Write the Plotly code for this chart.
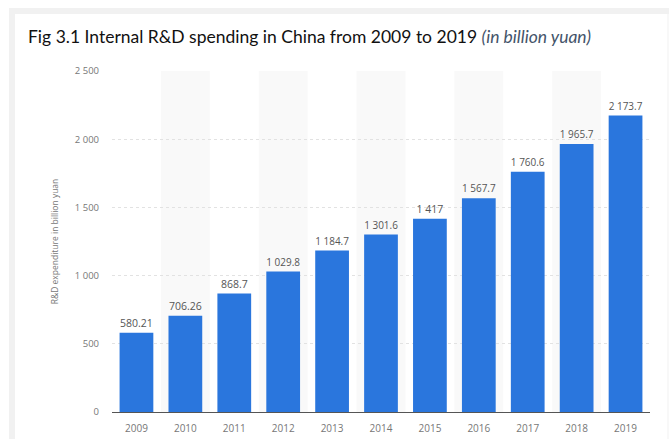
import plotly.graph_objects as go

years = ["2009", "2010", "2011", "2012", "2013", "2014", "2015", "2016", "2017", "2018", "2019"]
spending = [580.21, 706.26, 868.7, 1029.8, 1184.7, 1301.6, 1417, 1567.7, 1760.6, 1965.7, 2173.7]
y_ticks = [0, 500, 1000, 1500, 2000, 2500]

W, H = 669, 439
L, R, T, B = 112, 19, 71, 27
pw, ph = W - L - R, H - T - B

def px_x(px):
    return (px - L) / pw

def px_y(py):
    return (H - B - py) / ph

fig = go.Figure()
fig.add_trace(go.Bar(
    x=years, y=spending,
    marker=dict(color="#2a76dd", line=dict(width=0)),
    texttemplate="%{y:,}",
    textposition="outside",
    textfont=dict(family="Open Sans", size=10.5, color="#555555"),
    cliponaxis=False,
    hoverinfo="skip",
))

shapes = []
# alternating column bands
for i in range(len(years)):
    if i % 2 == 1:
        shapes.append(dict(type="rect", xref="x", yref="y", x0=i - 0.5, x1=i + 0.5,
                           y0=0, y1=y_ticks[-1], fillcolor="#f9f9f9", line=dict(width=0),
                           layer="below"))
# frame bands
shapes.append(dict(type="rect", xref="paper", yref="paper", x0=px_x(9), x1=px_x(669),
                   y0=px_y(14), y1=px_y(8), fillcolor="#f1f1f1", line=dict(width=0), layer="below"))
shapes.append(dict(type="rect", xref="paper", yref="paper", x0=px_x(9), x1=px_x(15),
                   y0=px_y(439), y1=px_y(8), fillcolor="#f1f1f1", line=dict(width=0), layer="below"))
shapes.append(dict(type="line", xref="paper", yref="paper", x0=px_x(668), x1=px_x(668),
                   y0=px_y(439), y1=px_y(14), line=dict(color="#f1f1f1", width=1), layer="below"))

fig.update_layout(
    width=W, height=H,
    margin=dict(l=L, r=R, t=T, b=B, pad=0, autoexpand=False),
    paper_bgcolor="white", plot_bgcolor="white",
    separators=". ",
    showlegend=False,
    bargap=0.31,
    shapes=shapes,
    xaxis=dict(
        type="category", range=[-0.5, len(years) - 0.5],
        showgrid=False, showline=True, linecolor="#555555", linewidth=1,
        ticks="", ticklabelstandoff=7, automargin=False,
        tickfont=dict(family="Open Sans", size=10, color="#777777"),
        fixedrange=True,
    ),
    yaxis=dict(
        range=[0, y_ticks[-1]], tickvals=y_ticks, separatethousands=True,
        showgrid=True, gridcolor="#e2e2e2", griddash="dot", gridwidth=1,
        zeroline=False, showline=False, ticks="", automargin=False,
        ticklabelstandoff=12,
        tickfont=dict(family="Open Sans", size=9.5, color="#777777"),
        title=dict(text="R&D expenditure in billion yuan",
                   font=dict(family="Open Sans", size=8.5, color="#777777"),
                   standoff=14),
        fixedrange=True,
    ),
    annotations=[dict(
        xref="paper", yref="paper", x=px_x(26), y=px_y(36),
        xanchor="left", yanchor="middle", showarrow=False,
        text="Fig 3.1 Internal R&D spending in China from 2009 to 2019 "
             "<i><span style='color:#44546a'>(in billion yuan)</span></i>",
        font=dict(family="Lato", size=17.5, color="#111111"),
    )],
)

fig.write_html("out.html")
